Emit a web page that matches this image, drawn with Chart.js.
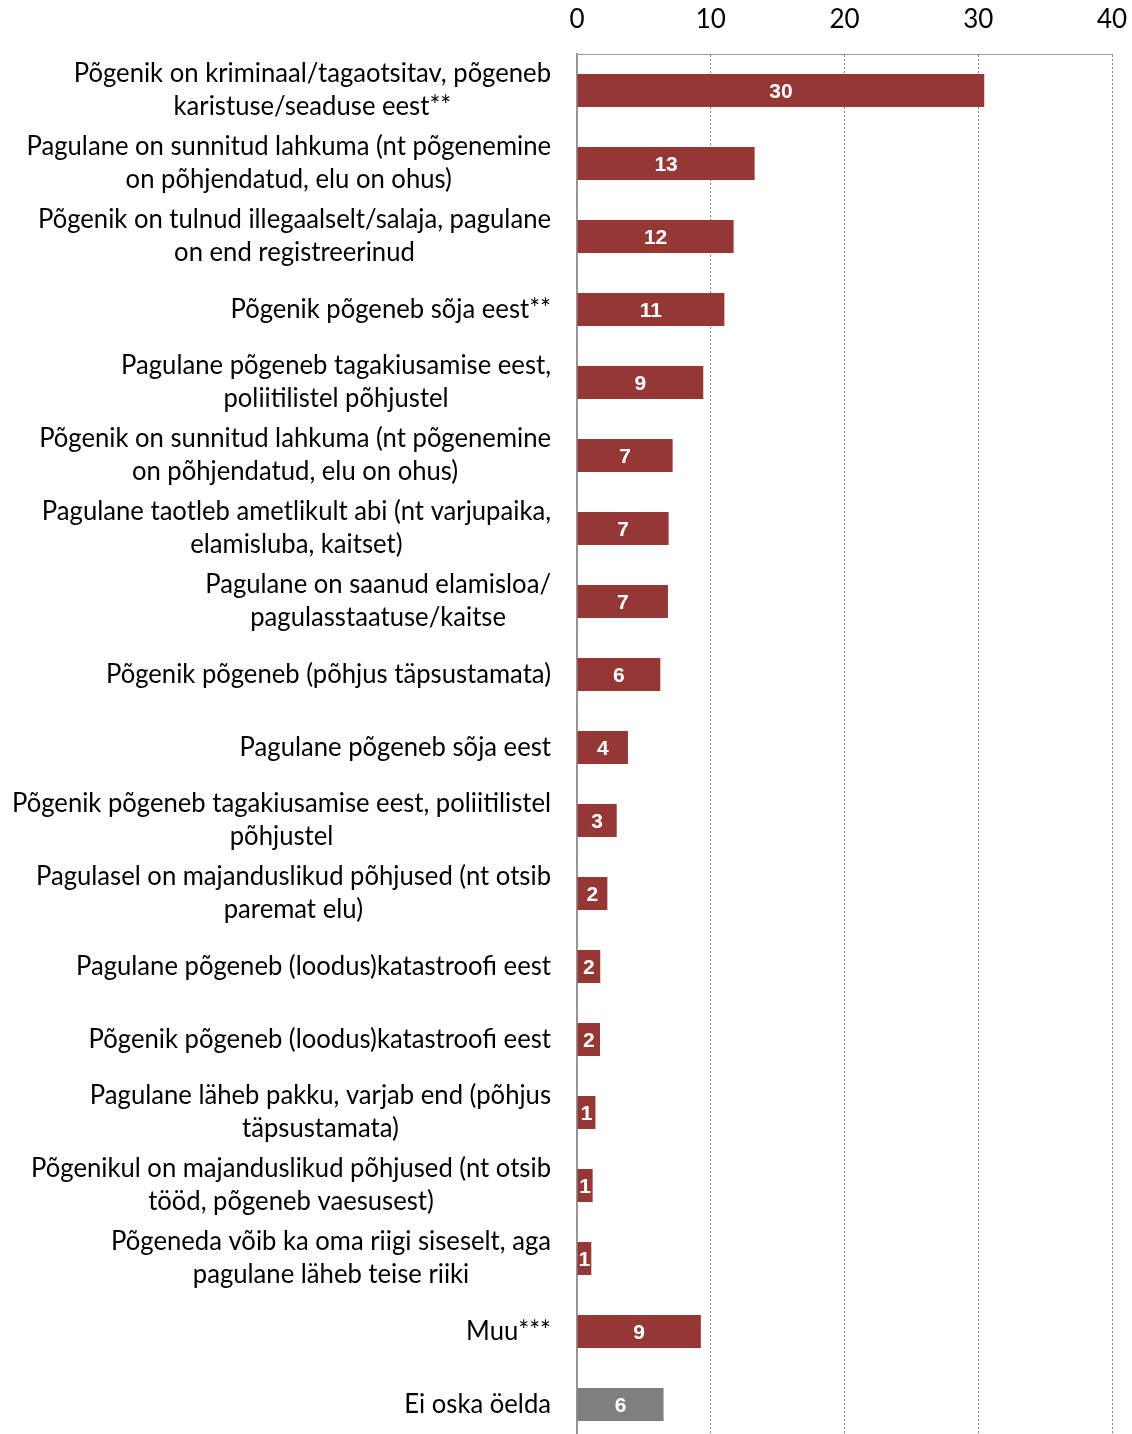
<!DOCTYPE html>
<html>
<head>
<meta charset="utf-8">
<script src="https://cdn.jsdelivr.net/npm/chart.js@4/dist/chart.umd.min.js"></script>
<style>
html, body { margin: 0; padding: 0; overflow: hidden; background: #fff; }
#wrap { position: relative; width: 1132px; height: 1441px; }
</style>
</head>
<body>
<div id="wrap"><canvas id="c"></canvas></div>
<script>
const categories = [
  ["Põgenik on kriminaal/tagaotsitav, põgeneb", "karistuse/seaduse eest**"],
  ["Pagulane on sunnitud lahkuma (nt põgenemine", "on põhjendatud, elu on ohus)"],
  ["Põgenik on tulnud illegaalselt/salaja, pagulane", "on end registreerinud"],
  ["Põgenik põgeneb sõja eest**"],
  ["Pagulane põgeneb tagakiusamise eest,", "poliitilistel põhjustel"],
  ["Põgenik on sunnitud lahkuma (nt põgenemine", "on põhjendatud, elu on ohus)"],
  ["Pagulane taotleb ametlikult abi (nt varjupaika,", "elamisluba, kaitset)"],
  ["Pagulane on saanud elamisloa/", "pagulasstaatuse/kaitse"],
  ["Põgenik põgeneb (põhjus täpsustamata)"],
  ["Pagulane põgeneb sõja eest"],
  ["Põgenik põgeneb tagakiusamise eest, poliitilistel", "põhjustel"],
  ["Pagulasel on majanduslikud põhjused (nt otsib", "paremat elu)"],
  ["Pagulane põgeneb (loodus)katastroofi eest"],
  ["Põgenik põgeneb (loodus)katastroofi eest"],
  ["Pagulane läheb pakku, varjab end (põhjus", "täpsustamata)"],
  ["Põgenikul on majanduslikud põhjused (nt otsib", "tööd, põgeneb vaesusest)"],
  ["Põgeneda võib ka oma riigi siseselt, aga", "pagulane läheb teise riiki"],
  ["Muu***"],
  ["Ei oska öelda"]
];
const values = [30.45, 13.28, 11.71, 11.02, 9.44, 7.15, 6.85, 6.80, 6.23, 3.81, 2.97, 2.27, 1.74, 1.72, 1.38, 1.17, 1.07, 9.26, 6.47];
const valueLabels = [30, 13, 12, 11, 9, 7, 7, 7, 6, 4, 3, 2, 2, 2, 1, 1, 1, 9, 6];
const xTicks = [0, 10, 20, 30, 40];

const RED = '#953735';
const GRAY = '#7f7f7f';
const barColors = categories.map((c, i) => i === categories.length - 1 ? GRAY : RED);

const LABEL_FONT = 'Lato, "Open Sans", sans-serif';
const LABEL_SIZE = 26;
const LABEL_RIGHT = 551;
const LABEL_LINE_H = 33;
const WIDEST_TARGET = 539;

const categoryLabelPlugin = {
  id: 'catLabels',
  afterDraw(chart) {
    const ctx = chart.ctx;
    const yScale = chart.scales.y;
    ctx.save();
    ctx.font = LABEL_SIZE + 'px ' + LABEL_FONT;
    ctx.fillStyle = '#000';
    ctx.textBaseline = 'middle';
    ctx.textAlign = 'center';
    let widest = 0;
    categories.forEach(lines => lines.forEach(l => { widest = Math.max(widest, ctx.measureText(l).width); }));
    const sx = Math.min(1, WIDEST_TARGET / widest);
    categories.forEach((lines, i) => {
      const yc = yScale.getPixelForValue(i);
      let maxW = 0;
      lines.forEach(l => { maxW = Math.max(maxW, ctx.measureText(l).width * sx); });
      const cx = LABEL_RIGHT - maxW / 2;
      const y0 = yc - (lines.length - 1) * LABEL_LINE_H / 2;
      lines.forEach((l, k) => {
        ctx.save();
        ctx.translate(cx, y0 + k * LABEL_LINE_H);
        ctx.scale(sx, 1);
        ctx.fillText(l, 0, 0);
        ctx.restore();
      });
    });
    ctx.restore();
  }
};

const valueLabelPlugin = {
  id: 'valLabels',
  afterDatasetsDraw(chart) {
    const ctx = chart.ctx;
    const meta = chart.getDatasetMeta(0);
    ctx.save();
    ctx.font = 'bold 21px "Liberation Sans", Arial, sans-serif';
    ctx.fillStyle = '#fff';
    ctx.textAlign = 'center';
    ctx.textBaseline = 'middle';
    meta.data.forEach((bar, i) => {
      const p = bar.getProps(['x', 'y', 'base'], true);
      const cx = (p.x + p.base) / 2;
      ctx.fillText(String(valueLabels[i]), cx, p.y + 1.5);
    });
    ctx.restore();
  }
};

new Chart(document.getElementById('c'), {
  type: 'bar',
  data: {
    labels: categories.map(l => l.join(' ')),
    datasets: [{
      data: values,
      backgroundColor: barColors,
      borderWidth: 0,
      barPercentage: 0.452,
      categoryPercentage: 1.0
    }]
  },
  options: {
    indexAxis: 'y',
    responsive: true,
    maintainAspectRatio: false,
    animation: false,
    devicePixelRatio: 1,
    layout: { padding: { left: 0, right: 20, top: 0, bottom: 0 } },
    plugins: { legend: { display: false }, tooltip: { enabled: false } },
    scales: {
      x: {
        position: 'top',
        min: 0,
        max: 40,
        afterBuildTicks(scale) { scale.ticks = xTicks.map(v => ({ value: v })); },
        afterFit(scale) {
          scale.height = 54;
          scale.paddingLeft = 0;
          scale.paddingRight = 0;
        },
        ticks: {
          padding: 19,
          color: '#000',
          font: { family: LABEL_FONT, size: 26 }
        },
        grid: {
          drawTicks: false,
          lineWidth: 1,
          color: ctx => (ctx.tick && ctx.tick.value === 0) ? 'rgba(0,0,0,0)' : '#808080'
        },
        border: { display: true, color: '#9a9a9a', width: 1, dash: [2, 2] }
      },
      y: {
        afterFit(scale) { scale.width = 577; },
        ticks: { display: false },
        grid: { display: false, drawTicks: false },
        border: { display: true, color: '#959595', width: 2 }
      }
    }
  },
  plugins: [categoryLabelPlugin, valueLabelPlugin]
});
</script>
</body>
</html>
